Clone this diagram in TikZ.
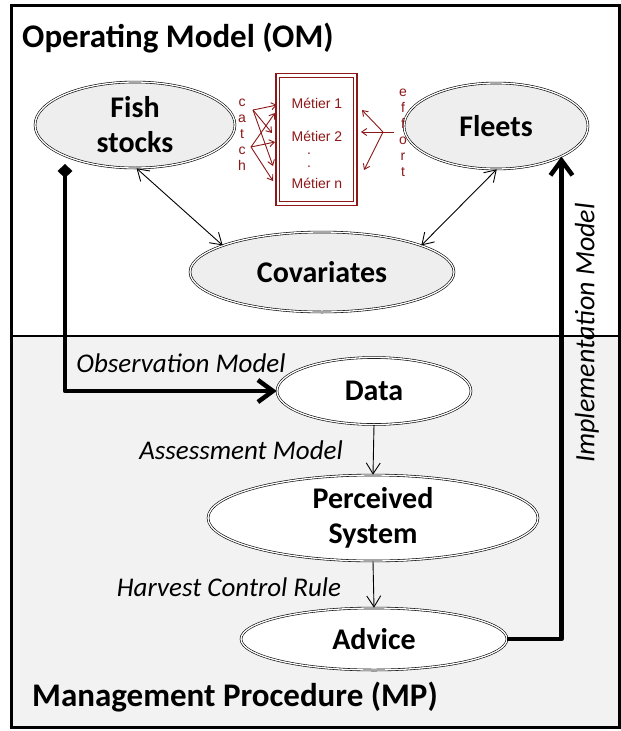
\documentclass[tikz,border=0pt]{standalone}
\usepackage{fontspec}
\setmainfont{Carlito}
\newfontfamily\arialf{Liberation Sans}
\usetikzlibrary{shapes.geometric,arrows.meta}
\definecolor{mred}{RGB}{140,24,24}
\definecolor{ellgray}{RGB}{238,238,238}
\definecolor{mpgray}{RGB}{242,242,242}
\begin{document}
\begin{tikzpicture}[x=1pt,y=-1pt,
  oell/.style={ellipse, draw, double, double distance=1.3pt, line width=0.6pt, fill=ellgray, inner sep=0pt,
    font=\fontsize{30}{35}\selectfont\bfseries, align=center},
  mell/.style={oell, fill=white},
  lab/.style={font=\fontsize{27}{30}\selectfont\itshape, inner sep=0pt},
  paneltitle/.style={font=\fontsize{33}{38}\selectfont\bfseries, anchor=west, inner sep=0pt},
  mtext/.style={font=\arialf\fontsize{14}{16}\selectfont, text=mred, inner sep=0pt},
  biarrow/.style={line width=0.9pt, {Straight Barb[length=11pt,width=14pt]}-{Straight Barb[length=11pt,width=14pt]}},
  onearrow/.style={line width=0.9pt, -{Straight Barb[length=11pt,width=14pt]}},
  redarrow/.style={draw=mred, line width=0.9pt, -{Straight Barb[length=5pt,width=7pt]}},
  bigline/.style={line width=4.5pt, line join=round}
]
\useasboundingbox (0,0) rectangle (621,731);
% panels
\fill[white] (11,5) rectangle (619,336);
\fill[mpgray] (11,336) rectangle (619,727);
\draw[line width=1.5pt] (11,336) -- (619,336);
\draw[line width=3pt] (11,5) rectangle (619,727);

% titles
\node[paneltitle] (om) at (22,38) {Operating Model (OM)};
\node[paneltitle] (mp) at (32,697) {Management Procedure (MP)};

% ellipses
\node[oell, minimum width=200pt, minimum height=86pt] (fish) at (135,125) {Fish\\stocks};
\node[oell, minimum width=184pt, minimum height=86pt] (fleets) at (496,126) {Fleets};
\node[oell, minimum width=264pt, minimum height=80pt] (cov) at (322,272) {Covariates};
\node[mell, minimum width=194pt, minimum height=67pt] (data) at (374,391) {Data};
\node[mell, minimum width=330pt, minimum height=83pt] (perc) at (373,518) {Perceived\\System};
\node[mell, minimum width=266pt, minimum height=62pt] (advice) at (374,639) {Advice};

% metier box
\node[draw=mred, double, double distance=2.4pt, line width=1.2pt, minimum width=77.5pt, minimum height=128pt, inner sep=0pt] (metier) at (316.5,139.5) {};
\node[mtext] (m1) at (317,103) {Métier 1};
\node[mtext] (m2) at (317,136) {Métier 2};
\node[mtext] (d1) at (309,154) {.};
\node[mtext] (d2) at (309,167) {.};
\node[mtext] (mn) at (317,183) {Métier n};
\node[mtext, align=center] (catch) at (242,135) {c\\a\\t\\c\\h};
\node[mtext, align=center] (effort) at (403,133) {e\\f\\f\\o\\r\\t};

% catch arrows
\coordinate (cs1) at (253,110);
\coordinate (cs2) at (251,147);
\coordinate (ct1) at (277,105);
\coordinate (ct2) at (272,133);
\coordinate (ct3) at (273,166);
\coordinate (ct4) at (275,113);
\coordinate (ct5) at (275,142);
\coordinate (ct6) at (273,181);
\draw[redarrow] (cs1) -- (ct1);
\draw[redarrow] (cs1) -- (ct2);
\draw[redarrow] (cs1) -- (ct3);
\draw[redarrow] (cs2) -- (ct4);
\draw[redarrow] (cs2) -- (ct5);
\draw[redarrow] (cs2) -- (ct6);

% effort arrows
\coordinate (es0) at (394,132);
\coordinate (es) at (383,132);
\coordinate (et1) at (362,110);
\coordinate (et2) at (361,132);
\coordinate (et3) at (364,170);
\draw[draw=mred, line width=0.9pt] (es0) -- (es);
\draw[redarrow] (es) -- (et1);
\draw[redarrow] (es) -- (et2);
\draw[redarrow] (es) -- (et3);

% OM connectors
\draw[biarrow] (fish.-88) -- (cov.165);
\draw[biarrow] (fleets.-89) -- (cov.15);

% MP connectors
\draw[onearrow] (data.south) -- (perc.north);
\draw[onearrow] (perc.south) -- (advice.north);

% thick connectors
\coordinate (obs0) at (65,164);
\draw[bigline, {Diamond[length=14pt,width=15pt]}-{Straight Barb[length=15pt,width=22pt]}] (obs0) |- (data.west);
\draw[bigline, -{Straight Barb[length=15pt,width=22pt]}] (advice.east) -| (fleets.-25);

% labels
\node[lab] (obs) at (181,363) {Observation Model};
\node[lab] (ass) at (241,450) {Assessment Model};
\node[lab] (hcr) at (229,587) {Harvest Control Rule};
\node[lab, rotate=90, font=\fontsize{28}{30}\selectfont\itshape] (impl) at (587,333) {Implementation Model};
\end{tikzpicture}
\end{document}
